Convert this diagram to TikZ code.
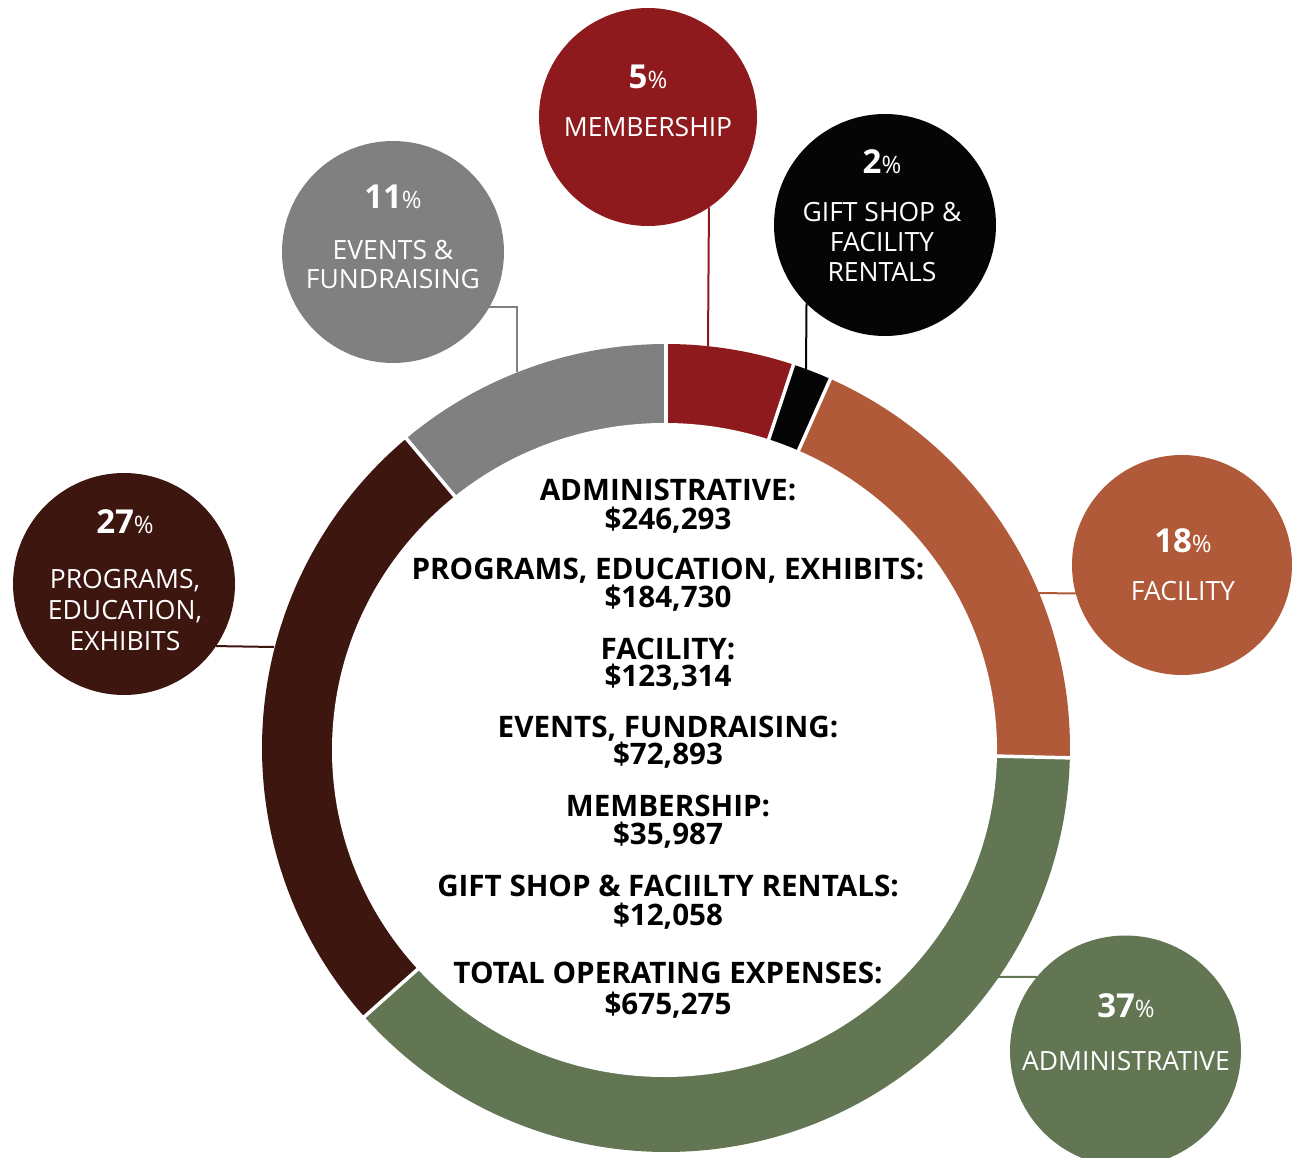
\documentclass[tikz,border=0pt]{standalone}
\usepackage{fontspec}
\setmainfont{Open Sans}
\definecolor{cgrey}{HTML}{808080}
\definecolor{cred}{HTML}{8E1A1E}
\definecolor{cblack}{HTML}{050505}
\definecolor{corange}{HTML}{B05A3A}
\definecolor{cgreen}{HTML}{627653}
\definecolor{cbrown}{HTML}{3D1610}
\newcommand{\pc}[1]{{\bfseries\fontsize{33}{33}\selectfont #1}{\fontsize{24}{24}\selectfont\%}}
\begin{document}
\begin{tikzpicture}[x=1pt,y=-1pt,
  bubble/.style={circle, inner sep=0pt, outer sep=0pt, minimum size=#1},
  bt/.style={text=white, inner sep=0pt, anchor=base, font=\fontsize{26.5}{26.5}\selectfont},
  ct/.style={inner sep=0pt, anchor=base, font=\bfseries\fontsize{29.6}{29.6}\selectfont},
  conn/.style={draw=#1, line width=2pt},
  sep/.style={draw=white, line width=3.5pt}]
\useasboundingbox (0,0) rectangle (1294,1158);
\clip (0,0) rectangle (1294,1158);
% ring
\begin{scope}[shift={(666,748)}, yscale=-1]
  \fill[cgrey]   (0,0) -- (130:404) arc[start angle=130, end angle=90, radius=404] -- cycle;
  \fill[cred]    (0,0) -- (90:404) arc[start angle=90, end angle=71.6, radius=404] -- cycle;
  \fill[cblack]  (0,0) -- (71.6:404) arc[start angle=71.6, end angle=66, radius=404] -- cycle;
  \fill[corange] (0,0) -- (66:404) arc[start angle=66, end angle=-1.4, radius=404] -- cycle;
  \fill[cgreen]  (0,0) -- (-1.4:404) arc[start angle=-1.4, end angle=-138.3, radius=404] -- cycle;
  \fill[cbrown]  (0,0) -- (-138.3:404) arc[start angle=-138.3, end angle=-230, radius=404] -- cycle;
  \foreach \a in {130,90,71.6,66,-1.4,-138.3}
    \draw[sep] (0,0) -- (\a:405);
  \fill[white] (-1.5,-2) ellipse [x radius=332.5, y radius=327];
\end{scope}
% bubbles
\node[bubble=218pt, fill=cred] (mem) at (648,117) {};
\node[bubble=222pt, fill=cblack] (gift) at (885,225) {};
\node[bubble=222pt, fill=cgrey] (ev) at (393,252) {};
\node[bubble=222pt, fill=cbrown] (prog) at (124,584) {};
\node[bubble=220pt, fill=corange] (fac) at (1182,565) {};
\node[bubble=231pt, fill=cgreen] (adm) at (1125.5,1051) {};
% connectors
\coordinate (memr) at (708,346);
\coordinate (giftr) at (806,369);
\coordinate (evr) at (517,372);
\coordinate (progr) at (274,647);
\coordinate (facr) at (1036,593);
\coordinate (admr) at (996,977);
\draw[conn=cred] (mem.-56.6) -- (memr);
\draw[conn=cblack] (gift.-135.4) -- (giftr);
\draw[conn=cgrey] (ev.-30.3) -| (evr);
\draw[conn=cbrown] (prog.-34.6) -- (progr);
\draw[conn=corange] (fac.-165.3) -- (facr);
\draw[conn=cgreen] (adm.140.2) -- (admr);
% bubble texts
\node[bt] (memp) at (648,89) {\pc{5}};
\node[bt] (meml) at (648,137) {MEMBERSHIP};
\node[bt] (giftp) at (882,174) {\pc{2}};
\node[bt] (giftl1) at (882,222) {GIFT SHOP \&};
\node[bt] (giftl2) at (882,252) {FACILITY};
\node[bt] (giftl3) at (882,282) {RENTALS};
\node[bt] (evp) at (393,209) {\pc{11}};
\node[bt] (evl1) at (393,260) {EVENTS \&};
\node[bt] (evl2) at (393,289) {FUNDRAISING};
\node[bt] (progp) at (125,533) {\pc{27}};
\node[bt] (progl1) at (125,588) {PROGRAMS,};
\node[bt] (progl2) at (125,619) {EDUCATION,};
\node[bt] (progl3) at (125,650) {EXHIBITS};
\node[bt] (facp) at (1183,552) {\pc{18}};
\node[bt] (facl) at (1183,600) {FACILITY};
\node[bt] (admp) at (1126,1017) {\pc{37}};
\node[bt] (adml) at (1126,1070) {ADMINISTRATIVE};
% centre texts
\node[ct] (c1a) at (668,500) {ADMINISTRATIVE:};
\node[ct] (c1b) at (668,529) {\$246,293};
\node[ct] (c2a) at (668,579) {PROGRAMS, EDUCATION, EXHIBITS:};
\node[ct] (c2b) at (668,607) {\$184,730};
\node[ct] (c3a) at (668,659) {FACILITY:};
\node[ct] (c3b) at (668,686) {\$123,314};
\node[ct] (c4a) at (668,737) {EVENTS, FUNDRAISING:};
\node[ct] (c4b) at (668,764) {\$72,893};
\node[ct] (c5a) at (668,816) {MEMBERSHIP:};
\node[ct] (c5b) at (668,844) {\$35,987};
\node[ct] (c6a) at (668,896) {GIFT SHOP \& FACIILTY RENTALS:};
\node[ct] (c6b) at (668,925.5) {\$12,058};
\node[ct] (c7a) at (668,983) {TOTAL OPERATING EXPENSES:};
\node[ct] (c7b) at (668,1014) {\$675,275};
\end{tikzpicture}
\end{document}
